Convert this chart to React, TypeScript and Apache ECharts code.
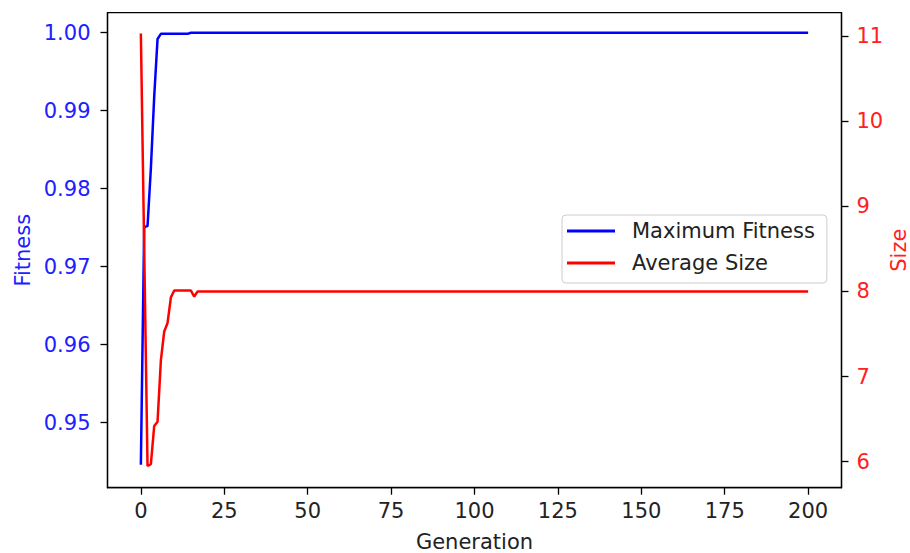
import React, { useEffect, useRef } from 'react';
import * as echarts from 'echarts';

const generationTicks = [0, 25, 50, 75, 100, 125, 150, 175, 200];
const fitnessTicks = [0.95, 0.96, 0.97, 0.98, 0.99, 1.0];
const sizeTicks = [6, 7, 8, 9, 10, 11];

const fitnessGenerations = [0, 1, 2, 3, 4, 5, 6, 14, 15, 200];
const maxFitness = [0.9446, 0.9751, 0.9752, 0.9826, 0.9918, 0.9992, 0.99985, 0.99985, 1.0, 1.0];

const sizeGenerations = [0, 1, 2, 3, 4, 5, 6, 7, 8, 9, 10, 15, 16, 17, 200];
const averageSize = [11.03, 8.5, 5.95, 5.97, 6.42, 6.47, 7.19, 7.53, 7.63, 7.93, 8.01, 8.01, 7.94, 8.0, 8.0];

const FONT = 'DejaVu Sans';
const FS = 21;

export default function App() {
  const ref = useRef<HTMLDivElement>(null);
  useEffect(() => {
    const chart = echarts.init(ref.current!, null, { renderer: 'svg' });
    const axisLine = { show: true, onZero: false, lineStyle: { color: '#000', width: 1.3 } };
    const axisTick = (vals: number[]) => ({
      show: true,
      length: 7,
      customValues: vals,
      lineStyle: { color: '#000', width: 1.3 },
    });
    chart.setOption({
      animation: false,
      backgroundColor: '#ffffff',
      textStyle: { fontFamily: FONT },
      grid: {
        left: 107.5,
        right: 68.5,
        top: 12.7,
        bottom: 65.3,
        show: true,
        borderColor: '#000',
        borderWidth: 1.3,
        backgroundColor: 'transparent',
        containLabel: false,
        outerBoundsMode: 'none',
      },
      legend: {
        show: true,
        orient: 'vertical',
        left: 562,
        top: 215,
        icon: 'rect',
        itemWidth: 48,
        itemHeight: 3,
        itemGap: 10,
        padding: [5, 12, 9, 5],
        backgroundColor: 'rgba(255,255,255,0.8)',
        borderColor: '#cccccc',
        borderWidth: 1,
        borderRadius: 4,
        textStyle: {
          fontFamily: FONT,
          fontSize: FS,
          color: '#222',
          lineHeight: 22,
          padding: [0, 0, 0, 12],
        },
        data: ['Maximum Fitness', 'Average Size'],
      },
      xAxis: {
        type: 'value',
        min: -10,
        max: 210,
        name: 'Generation',
        nameLocation: 'middle',
        nameGap: 44,
        nameMoveOverlap: false,
        nameTextStyle: { fontFamily: FONT, fontSize: FS, color: '#222' },
        axisLine,
        axisTick: axisTick(generationTicks),
        axisLabel: {
          customValues: generationTicks,
          margin: 13,
          fontFamily: FONT,
          fontSize: FS,
          color: '#222',
        },
        splitLine: { show: false },
      },
      yAxis: [
        {
          type: 'value',
          position: 'left',
          min: 0.941667,
          max: 1.002564,
          name: 'Fitness',
          nameLocation: 'middle',
          nameRotate: 90,
          nameGap: 74,
          nameMoveOverlap: false,
          nameTextStyle: { fontFamily: FONT, fontSize: FS, color: '#2020ff' },
          axisLine,
          axisTick: axisTick(fitnessTicks),
          axisLabel: {
            customValues: fitnessTicks,
            margin: 17,
            fontFamily: FONT,
            fontSize: FS,
            color: '#2020ff',
            formatter: (v: number) => v.toFixed(2),
          },
          splitLine: { show: false },
        },
        {
          type: 'value',
          position: 'right',
          min: 5.6946,
          max: 11.2737,
          name: 'Size',
          nameLocation: 'middle',
          nameRotate: 90,
          nameGap: 47,
          nameMoveOverlap: false,
          nameTextStyle: { fontFamily: FONT, fontSize: FS, color: '#ff2020' },
          axisLine,
          axisTick: axisTick(sizeTicks),
          axisLabel: {
            customValues: sizeTicks,
            margin: 15,
            fontFamily: FONT,
            fontSize: FS,
            color: '#ff2020',
            formatter: (v: number) => String(Math.round(v)),
          },
          splitLine: { show: false },
        },
      ],
      series: [
        {
          name: 'Maximum Fitness',
          type: 'line',
          yAxisIndex: 0,
          showSymbol: false,
          symbol: 'none',
          color: '#0000ff',
          lineStyle: { color: '#0000ff', width: 2.5 },
          data: fitnessGenerations.map((g, i) => [g, maxFitness[i]]),
        },
        {
          name: 'Average Size',
          type: 'line',
          yAxisIndex: 1,
          showSymbol: false,
          symbol: 'none',
          color: '#ff0000',
          lineStyle: { color: '#ff0000', width: 2.5 },
          data: sizeGenerations.map((g, i) => [g, averageSize[i]]),
        },
      ],
    });
    return () => chart.dispose();
  }, []);
  return (
    <div
      ref={ref}
      style={{ position: 'fixed', left: 0, top: 0, width: 910, height: 553, background: '#fff' }}
    />
  );
}
